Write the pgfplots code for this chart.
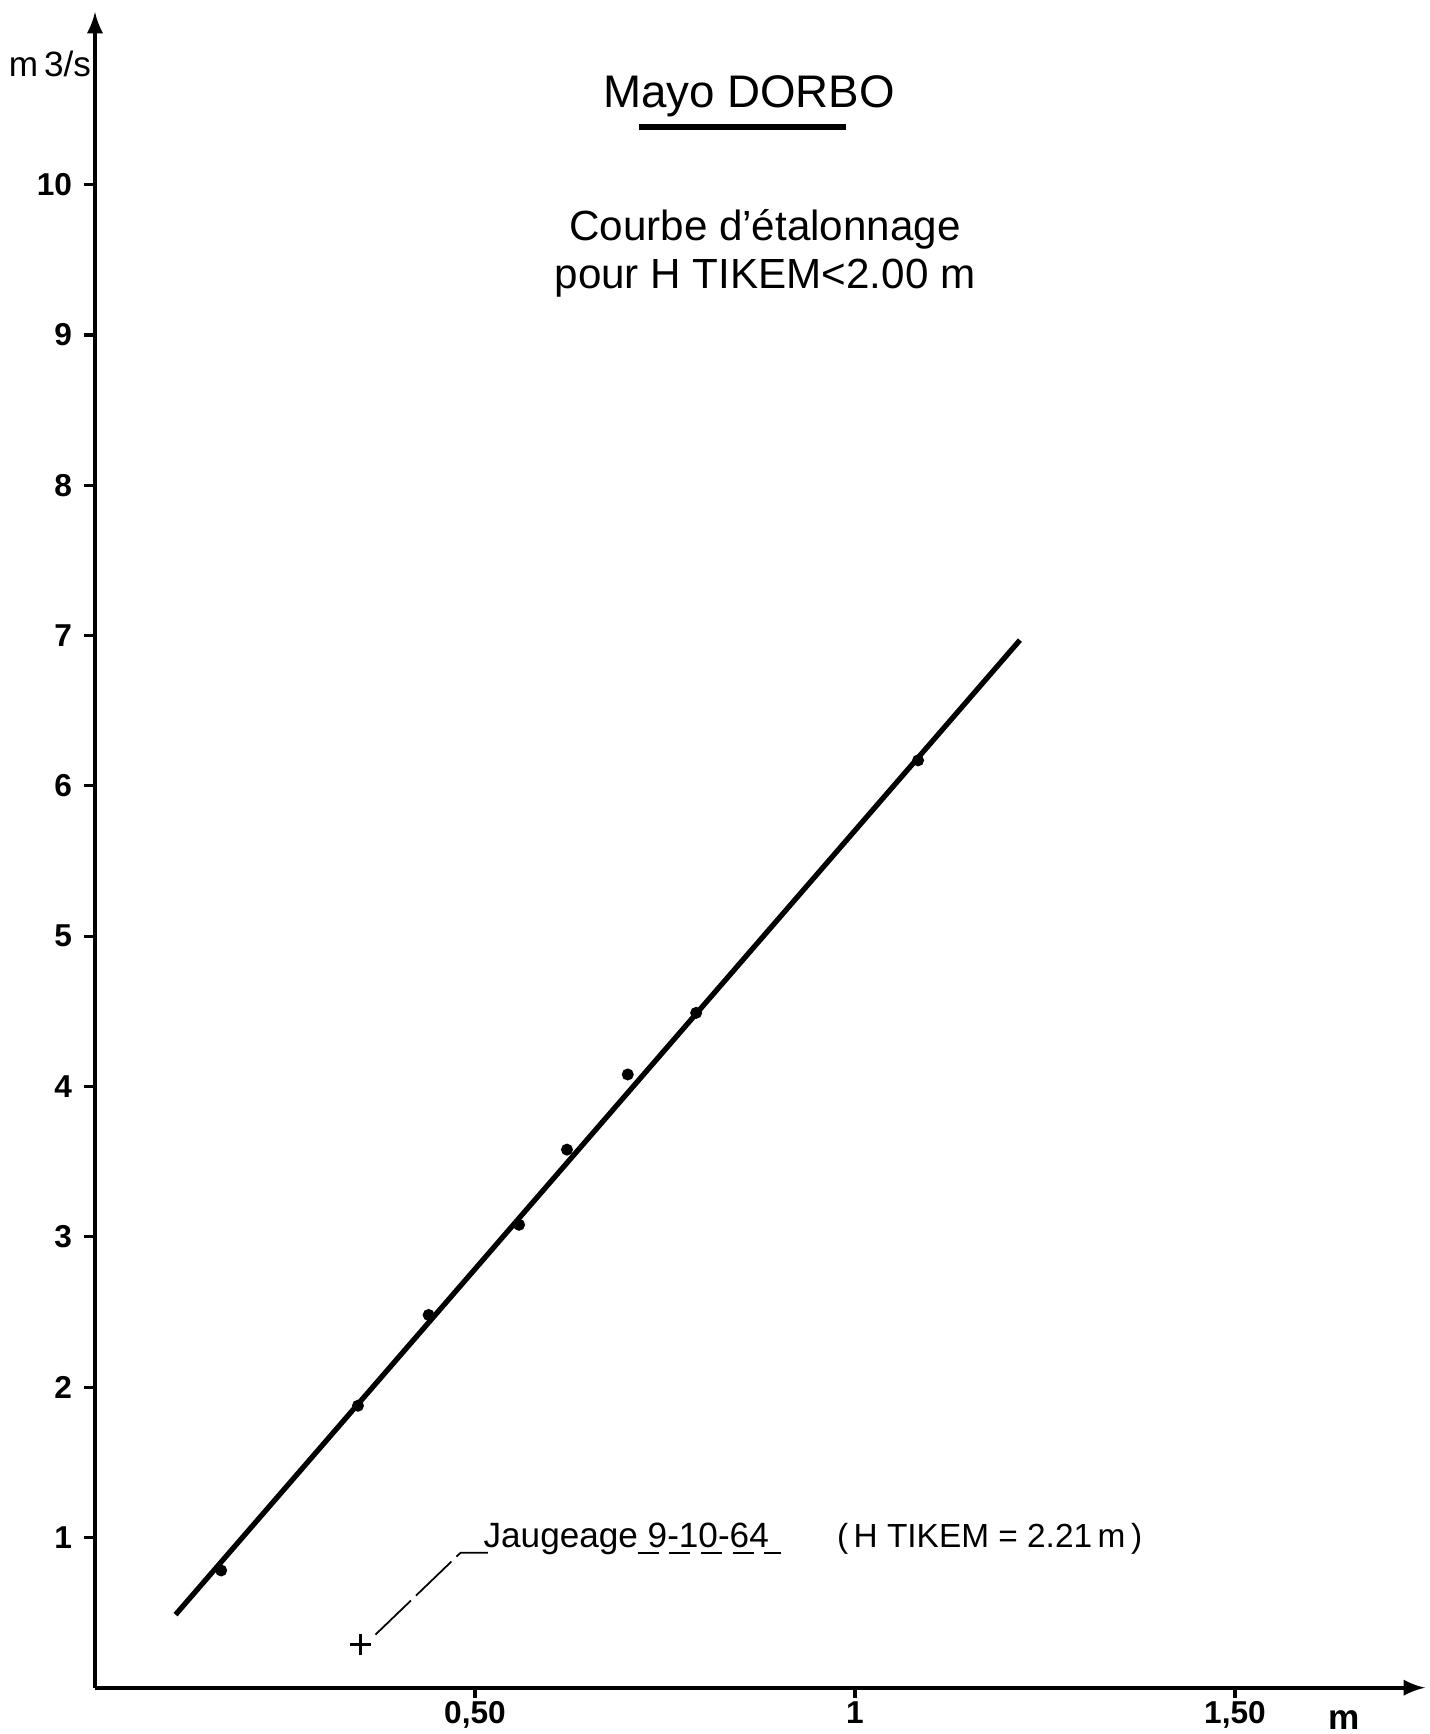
\documentclass[border=0pt]{standalone}
\usepackage{fontspec}
\setmainfont{Liberation Sans}
\usepackage{pgfplots}
\pgfplotsset{compat=1.18}
\begin{document}
\begin{tikzpicture}
\useasboundingbox (0,0) rectangle (14.3cm,17.34cm);
\begin{axis}[
  at={(0.95cm,0.463cm)}, anchor=origin,
  scale only axis, width=13.30cm, height=16.758cm,
  xmin=0, xmax=1.75, ymin=0, ymax=11.15,
  axis lines=left,
  axis line style={line width=1.1pt, -latex},
  tick align=outside, major tick length=3pt,
  tick style={line width=0.9pt, black},
  xtick={0.5,1,1.5}, xticklabels={{0,50},{1},{1,50}},
  ytick={1,2,3,4,5,6,7,8,9,10},
  tick label style={font=\bfseries\fontsize{9}{10}\selectfont},
  xticklabel style={yshift=2.5pt},
  /pgf/number format/assume math mode=true,
  clip=false,
]
% calibration curve
\addplot[black, line width=1.5pt] coordinates {(0.106,0.486) (1.217,6.97)};
% gaugings
\addplot[only marks, mark=*, mark size=1.5pt, black] coordinates {
 (0.166,0.78) (0.346,1.876) (0.439,2.48) (0.558,3.08) (0.621,3.58)
 (0.701,4.08) (0.791,4.49) (1.083,6.17)};
% gauging 9-10-64
\addplot[only marks, mark=+, mark size=3pt, line width=0.8pt, black] coordinates {(0.349,0.287)};
\addplot[black, line width=0.5pt, dash pattern=on 14pt off 2pt] coordinates {(0.369,0.353) (0.481,0.898) (0.517,0.898)};
\addplot[black, line width=0.5pt, dash pattern=on 6pt off 3pt] coordinates {(0.714,0.895) (0.903,0.895)};
\node[anchor=west, font=\fontsize{10}{12}\selectfont] at (axis cs:0.495,0.99) {Jaugeage 9-10-64};
\node[anchor=west, font=\fontsize{9.5}{12}\selectfont] at (axis cs:0.96,0.99) {(\,H TIKEM = 2.21\,m\,)};
\end{axis}
\node[font=\fontsize{13}{15}\selectfont] at (7.49cm,16.38cm) {Mayo DORBO};
\draw[line width=1.6pt] (6.39cm,16.07cm) -- (8.46cm,16.07cm);
\node[font=\fontsize{12}{14}\selectfont] at (7.65cm,15.05cm) {Courbe d'étalonnage};
\node[font=\fontsize{12}{14}\selectfont] at (7.65cm,14.56cm) {pour H TIKEM\textless2.00 m};
\node[font=\fontsize{10}{12}\selectfont] at (0.50cm,16.70cm) {m\,3/s};
\node[font=\fontsize{10}{12}\selectfont\bfseries] at (13.44cm,0.14cm) {m};
\end{tikzpicture}
\end{document}
